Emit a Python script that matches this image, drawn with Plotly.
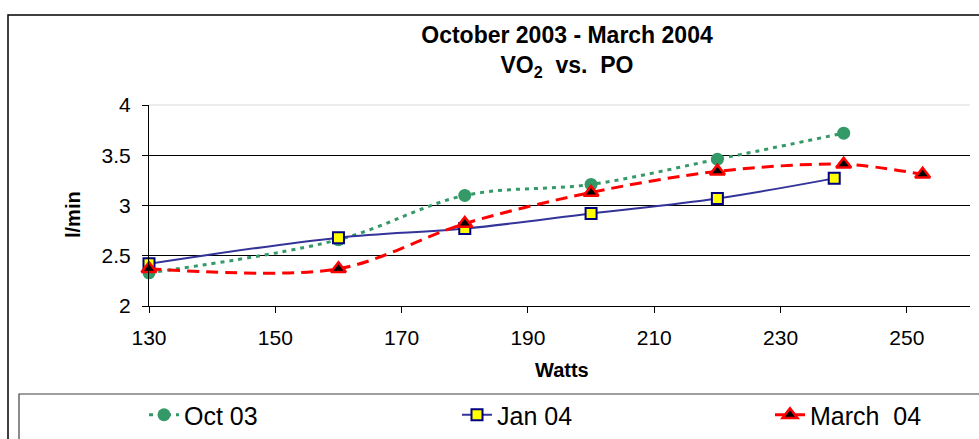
import plotly.graph_objects as go

# ---- data ----
oct_watts = [130, 160, 180, 200, 220, 240]
oct_vo2 = [2.33, 2.66, 3.10, 3.21, 3.46, 3.72]

jan_watts = [130, 160, 180, 200, 220, 238.5]
jan_vo2 = [2.42, 2.68, 2.77, 2.92, 3.07, 3.27]

mar_watts = [130, 160, 180, 200, 220, 240, 252.5]
mar_vo2 = [2.37, 2.37, 2.82, 3.13, 3.34, 3.41, 3.31]

series_names = ["Oct 03", "Jan 04", "March\u00a0 04"]
x_ticks = [130, 150, 170, 190, 210, 230, 250]
y_ticks = [2, 2.5, 3, 3.5, 4]

FONT = "Liberation Sans, Arial, sans-serif"

W, H = 979, 439
L, R, T, B = 149, 9, 105, 133
PW = W - L - R
PH = H - T - B


def px_x(p):
    return (p - L) / PW


def px_y(p):
    return (H - B - p) / PH


fig = go.Figure()

fig.add_trace(go.Scatter(
    x=oct_watts, y=oct_vo2, name=series_names[0], mode="lines+markers",
    line=dict(color="#339966", width=3, dash="4px,5px", shape="spline", smoothing=1),
    marker=dict(symbol="circle", size=13, color="#339966", line=dict(width=0)),
    cliponaxis=False,
))
fig.add_trace(go.Scatter(
    x=jan_watts, y=jan_vo2, name=series_names[1], mode="lines+markers",
    line=dict(color="#333399", width=2, shape="spline", smoothing=1),
    marker=dict(symbol="square", size=11, color="#FFFF00", line=dict(width=2, color="#000080")),
    cliponaxis=False,
))
fig.add_trace(go.Scatter(
    x=mar_watts, y=mar_vo2, name=series_names[2], mode="lines+markers",
    line=dict(color="#FF0000", width=3, dash="12px,7px", shape="spline", smoothing=0.9),
    marker=dict(symbol="triangle-up", size=13, color="#000000", line=dict(width=2.5, color="#FF0000")),
    cliponaxis=False,
))

fig.update_layout(
    width=W, height=H,
    margin=dict(l=L, r=R, t=T, b=B, autoexpand=False),
    paper_bgcolor="white", plot_bgcolor="white",
    font=dict(family=FONT, color="black"),
    title=dict(
        text="<b>October 2003 - March 2004</b><br><b>VO<sub>2</sub>\u00a0 vs.\u00a0 PO</b>",
        font=dict(size=23, family=FONT, color="black"),
        x=567 / W, xanchor="center", xref="container",
        y=1 - 43 / H, yanchor="top", yref="container",
    ),
    xaxis=dict(
        range=[130, 260], tickvals=x_ticks, ticktext=[str(v) for v in x_ticks],
        showgrid=False, zeroline=False, showline=True, linecolor="black", linewidth=1,
        ticks="outside", ticklen=6, tickcolor="black", tickwidth=1,
        tickfont=dict(size=21, family=FONT, color="black"), ticklabelstandoff=7,
    ),
    yaxis=dict(
        range=[2, 4], tickvals=y_ticks, ticktext=["2", "2.5", "3", "3.5", "4"],
        showgrid=True, gridcolor="black", gridwidth=1, zeroline=False,
        showline=True, linecolor="black", linewidth=1,
        ticks="outside", ticklen=6, tickcolor="black", tickwidth=1,
        tickfont=dict(size=21, family=FONT, color="black"), ticklabelstandoff=7,
    ),
    showlegend=True,
    legend=dict(
        orientation="h", x=px_x(144), xanchor="left", y=px_y(392), yanchor="top",
        font=dict(size=25, family=FONT, color="black"),
        bgcolor="rgba(0,0,0,0)", borderwidth=0,
        entrywidth=268, entrywidthmode="pixels", traceorder="normal",
    ),
    annotations=[
        dict(text="<b>l/min</b>", textangle=-90, xref="paper", yref="paper",
             x=px_x(73), y=px_y(215), xanchor="center", yanchor="middle",
             showarrow=False, font=dict(size=20, family=FONT, color="black")),
        dict(text="<b>Watts</b>", xref="paper", yref="paper",
             x=px_x(561.5), y=px_y(370), xanchor="center", yanchor="middle",
             showarrow=False, font=dict(size=20, family=FONT, color="black")),
    ],
    shapes=[
        # light top grid edge at y=4
        dict(type="line", xref="paper", yref="paper", x0=0, x1=1, y0=1, y1=1,
             line=dict(color="#e6e6e6", width=1.5), layer="above"),
        # outer chart border
        dict(type="rect", xref="paper", yref="paper",
             x0=px_x(8), x1=px_x(995), y0=px_y(460), y1=px_y(15),
             line=dict(color="black", width=1.5), fillcolor="rgba(0,0,0,0)"),
        # legend box
        dict(type="rect", xref="paper", yref="paper",
             x0=px_x(19), x1=px_x(995), y0=px_y(460), y1=px_y(394),
             line=dict(color="#404040", width=1.2), fillcolor="rgba(0,0,0,0)"),
    ],
)

fig.write_html(
    "out.html",
    config={"displayModeBar": False},
    post_script="document.body.style.margin='0px';document.body.style.overflow='hidden';",
)
